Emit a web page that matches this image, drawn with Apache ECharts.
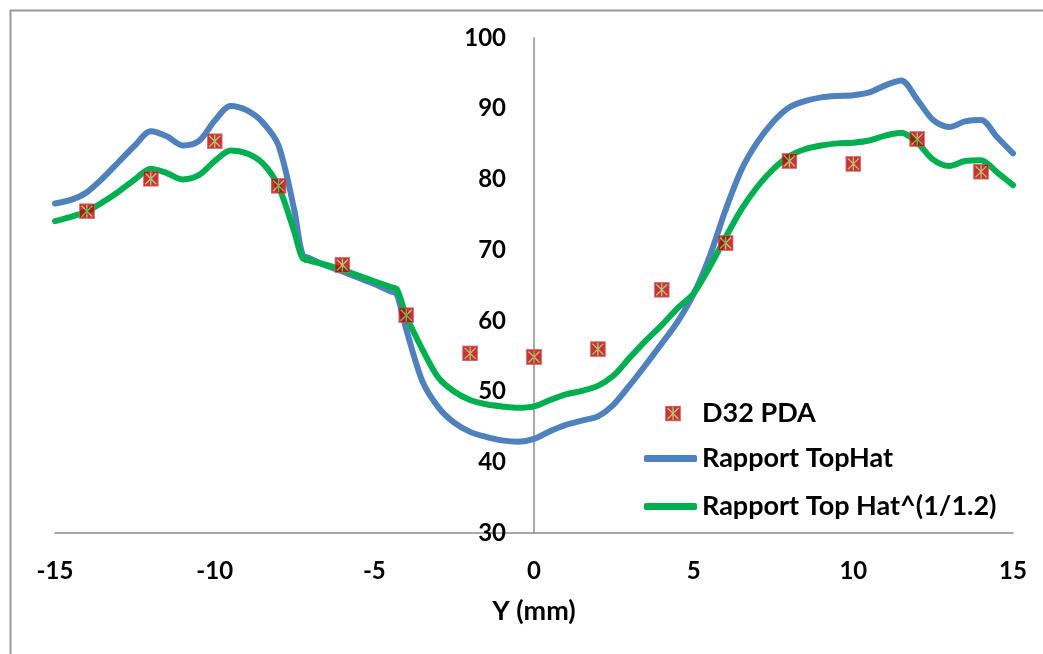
<!DOCTYPE html>
<html>
<head>
<meta charset="utf-8">
<script src="https://cdn.jsdelivr.net/npm/echarts@6/dist/echarts.min.js"></script>
<style>
html,body{margin:0;padding:0;background:#fff;}
#chart{width:1043px;height:654px;}
</style>
</head>
<body>
<div id="chart"></div>
<script>
// ---- data ----
const xTicks = [-15, -10, -5, 0, 5, 10, 15];
const yTicks = [30, 40, 50, 60, 70, 80, 90, 100];

const pdaName = 'D32 PDA';
const pdaX = [-14, -12, -10, -8, -6, -4, -2, 0, 2, 4, 6, 8, 10, 12, 14];
const pdaY = [75.5, 80.1, 85.4, 79.1, 67.9, 60.8, 55.4, 54.9, 56.0, 64.4, 71.0, 82.6, 82.2, 85.7, 81.1];

const lineX = [-15, -14.5, -14, -13.5, -13, -12.5, -12, -11.5, -11, -10.5, -10, -9.5, -9, -8.5, -8, -7.5, -7.25,
  -7, -6.5, -6, -5.5, -5, -4.5, -4.3,
  -4, -3.5, -3, -2.5, -2, -1.5, -1, -0.5, 0, 0.5, 1, 1.5, 2, 2.5, 3, 3.5, 4, 4.5, 5, 5.5, 6, 6.5, 7, 7.5,
  8, 8.5, 9, 9.5, 10, 10.5, 11, 11.5, 12, 12.5, 13, 13.5, 14, 14.5, 15];

const topHatName = 'Rapport TopHat';
const topHatY = [76.6, 77.1, 78.2, 80.2, 82.5, 84.8, 86.8, 86.1, 84.8, 85.4, 88.3, 90.4, 89.8, 88.1, 84.8, 75.5, 69.4,
  68.8, 67.8, 67.0, 66.1, 65.2, 64.2, 63.8,
  58.8, 51.5, 47.8, 45.6, 44.3, 43.6, 43.1, 42.9, 43.3, 44.4, 45.3, 45.9, 46.5, 48.2, 50.9, 53.8, 56.8, 59.9, 63.8, 69.1, 75.7, 81.4, 85.3, 88.2,
  90.2, 91.1, 91.6, 91.8, 91.9, 92.3, 93.3, 94.0, 91.3, 88.4, 87.4, 88.2, 88.4, 86.0, 83.7];

const topHatPowName = 'Rapport Top Hat^(1/1.2)';
const topHatPowY = [74.1, 74.7, 75.5, 76.8, 78.3, 80.0, 81.5, 80.9, 80.0, 80.6, 82.6, 84.1, 83.7, 82.3, 79.0, 72.5, 68.9,
  68.5, 67.9, 67.2, 66.4, 65.6, 64.8, 64.5,
  60.7, 56.0, 52.0, 50.0, 48.8, 48.2, 47.9, 47.7, 47.9, 48.8, 49.6, 50.1, 50.8, 52.3, 54.8, 57.2, 59.4, 61.8, 63.9, 67.6, 71.8, 75.8, 79.0, 81.5,
  83.3, 84.3, 84.8, 85.1, 85.2, 85.5, 86.2, 86.6, 85.2, 82.8, 81.9, 82.6, 82.7, 81.0, 79.2];

const axisTitle = 'Y (mm)';

// ---- build ----
const FONT = 'Lato';
const markerSvg = "<svg xmlns='http://www.w3.org/2000/svg' width='16' height='16' viewBox='0 0 16 16'>" +
  "<rect x='0.5' y='0.5' width='15' height='15' fill='#C00000' stroke='#CF5A5A' stroke-width='1'/>" +
  "<path d='M2.5 2.5L13.5 13.5M13.5 2.5L2.5 13.5M8 1.5V14.5' stroke='#9BBB59' stroke-width='1.3'/></svg>";
const markerImg = 'image://data:image/svg+xml;charset=utf-8,' + encodeURIComponent(markerSvg);

const zip = (xs, ys) => xs.map((x, i) => [x, ys[i]]);

const gridLeft = 55, gridRight = 30, chartW = 1043;
const plotW = chartW - gridLeft - gridRight;
const xMin = xTicks[0], xMax = xTicks[xTicks.length - 1];
const yAxisOffset = -plotW * (0 - xMin) / (xMax - xMin); // place y axis at x = 0

const chart = echarts.init(document.getElementById('chart'), null, {renderer: 'canvas'});
const option = {
  backgroundColor: '#ffffff',
  animation: false,
  textStyle: {fontFamily: FONT},
  grid: {left: gridLeft, right: gridRight, top: 38, bottom: 121, containLabel: false, outerBoundsMode: 'none'},
  graphic: [
    {type: 'rect', left: 8, top: 8, silent: true, z: -10,
     shape: {x: 0, y: 0, width: 1200, height: 800},
     style: {fill: 'none', stroke: '#9a9a9a', lineWidth: 2}}
  ],
  xAxis: {
    type: 'value', min: xMin, max: xMax, interval: 5,
    splitLine: {show: false},
    axisTick: {show: false},
    axisLine: {show: true, onZero: false, lineStyle: {color: '#8c8c8c', width: 1.5}},
    axisLabel: {fontFamily: FONT, fontWeight: 'bold', fontSize: 24, color: '#000', margin: 26},
    name: axisTitle, nameLocation: 'middle', nameGap: 65,
    nameTextStyle: {fontFamily: FONT, fontWeight: 'bold', fontSize: 27, color: '#000'}
  },
  yAxis: {
    type: 'value', min: yTicks[0], max: yTicks[yTicks.length - 1], interval: 10,
    position: 'left', offset: yAxisOffset,
    splitLine: {show: false},
    axisTick: {show: false},
    axisLine: {show: true, onZero: false, lineStyle: {color: '#8c8c8c', width: 1.5}},
    axisLabel: {fontFamily: FONT, fontWeight: 'bold', fontSize: 24, color: '#000', margin: 28}
  },
  legend: [
    {
      orient: 'vertical', left: 665, top: 400, padding: 0,
      itemWidth: 16, itemHeight: 16,
      data: [{name: pdaName, icon: markerImg}],
      textStyle: {fontFamily: FONT, fontWeight: 'bold', fontSize: 27, color: '#000', padding: [0, 0, 0, 16]}
    },
    {
      orient: 'vertical', left: 644, top: 445, padding: 0,
      itemWidth: 53, itemHeight: 7, itemGap: 21,
      data: [{name: topHatName, icon: 'roundRect'}, {name: topHatPowName, icon: 'roundRect'}],
      textStyle: {fontFamily: FONT, fontWeight: 'bold', fontSize: 27, color: '#000'}
    }
  ],
  series: [
    {
      name: pdaName, type: 'scatter', z: 5,
      symbol: markerImg, symbolSize: 16,
      itemStyle: {color: '#C00000'},
      data: zip(pdaX, pdaY)
    },
    {
      name: topHatName, type: 'line', z: 2, smooth: 0.3, showSymbol: false, symbol: 'none',
      lineStyle: {color: '#4F81BD', width: 6, cap: 'round', join: 'round'},
      itemStyle: {color: '#4F81BD'},
      data: zip(lineX, topHatY)
    },
    {
      name: topHatPowName, type: 'line', z: 3, smooth: 0.3, showSymbol: false, symbol: 'none',
      lineStyle: {color: '#00B050', width: 6, cap: 'round', join: 'round'},
      itemStyle: {color: '#00B050'},
      data: zip(lineX, topHatPowY)
    }
  ]
};
chart.setOption(option);
</script>
</body>
</html>
